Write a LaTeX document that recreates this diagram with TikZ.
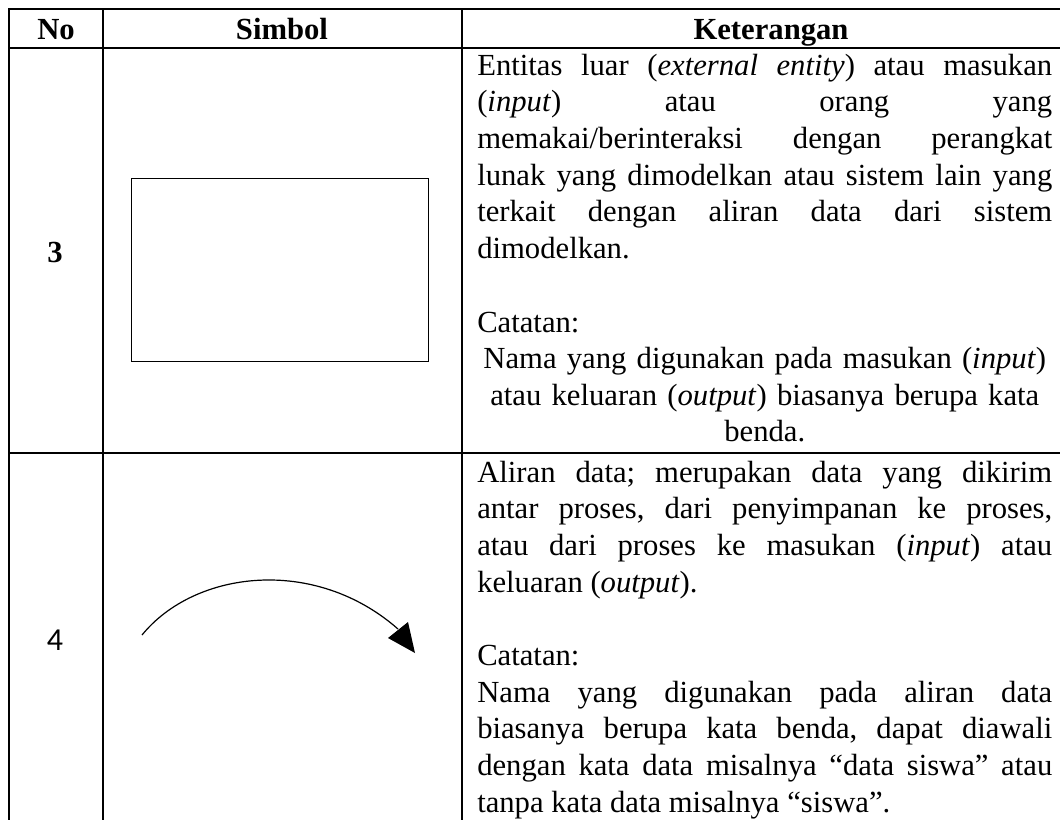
\documentclass[tikz,border=0pt]{standalone}
\usepackage{fontspec}
\setmainfont{Liberation Serif}
\newfontfamily\numfont{Carlito}
\hbadness=10000
\tolerance=10000
\hyphenpenalty=10000
\frenchspacing
\begin{document}
\begin{tikzpicture}[x=0.75pt,y=-0.75pt,
  rule/.style={line width=1pt, line cap=rect},
  body/.style={inner sep=0pt, anchor=base west, text width=431.25pt, align=justify,
    font=\fontsize{23}{27.5}\selectfont},
  bodyc/.style={body, align=center},
  hdr/.style={inner sep=0pt, anchor=base, font=\bfseries\fontsize{23}{27.5}\selectfont},
  symbox/.style={draw, line width=1.1pt, inner sep=0pt, anchor=north west}
]
\useasboundingbox (0,0) rectangle (1060,819);
% table rules
\draw[rule] (1060,9) -- (9,9) -- (9,819);
\draw[rule] (103,9) -- (103,819);
\draw[rule] (462,9) -- (462,819);
\draw[rule] (9,48) -- (1060,48);
\draw[rule] (9,453) -- (1060,453);
% header
\node[hdr] (hno) at (56,39) {No};
\node[hdr] (hsym) at (282,39) {Simbol};
\node[hdr] (hket) at (771,39) {Keterangan};
% row numbers
\node[hdr] (n3) at (55,262) {3};
\node[inner sep=0pt, anchor=base, font=\numfont\fontsize{24}{27.5}\selectfont] (n4) at (55,650) {4};
% symbol: external entity
\node[symbox, minimum width=222.75pt, minimum height=137.25pt] (ent) at (131,178) {};
% symbol: data flow
\coordinate (fs) at (142,635);
\coordinate (fe) at (398,629);
\coordinate (tip) at (415,653);
\coordinate (b1) at (388,638);
\coordinate (b2) at (408,622);
\draw[line width=0.9pt] (fs) .. controls (195,570) and (315,556) .. (fe);
\fill (tip) -- (b1) -- (b2) -- cycle;
% row 3 text
\node[body] (t3a) at (477,75) {Entitas luar (\textit{external entity}) atau masukan\linebreak
(\textit{input}) atau orang yang\linebreak
memakai/berinteraksi dengan perangkat\linebreak
lunak yang dimodelkan atau sistem lain yang\linebreak
terkait dengan aliran data dari sistem\linebreak
dimodelkan.};
\node[body] (t3b) at (477,332) {Catatan:};
\node[bodyc] (t3c) at (477,368.6) {Nama yang digunakan pada masukan (\textit{input})\\
atau keluaran (\textit{output}) biasanya berupa kata\\
benda.};
% row 4 text
\node[body] (t4a) at (477,482) {Aliran data; merupakan data yang dikirim\linebreak
antar proses, dari penyimpanan ke proses,\linebreak
atau dari proses ke masukan (\textit{input}) atau\linebreak
keluaran (\textit{output}).};
\node[body] (t4b) at (477,665.5) {Catatan:};
\node[body] (t4c) at (477,702.2) {Nama yang digunakan pada aliran data\linebreak
biasanya berupa kata benda, dapat diawali\linebreak
dengan kata data misalnya “data siswa” atau\linebreak
tanpa kata data misalnya “siswa”.};
\end{tikzpicture}
\end{document}
